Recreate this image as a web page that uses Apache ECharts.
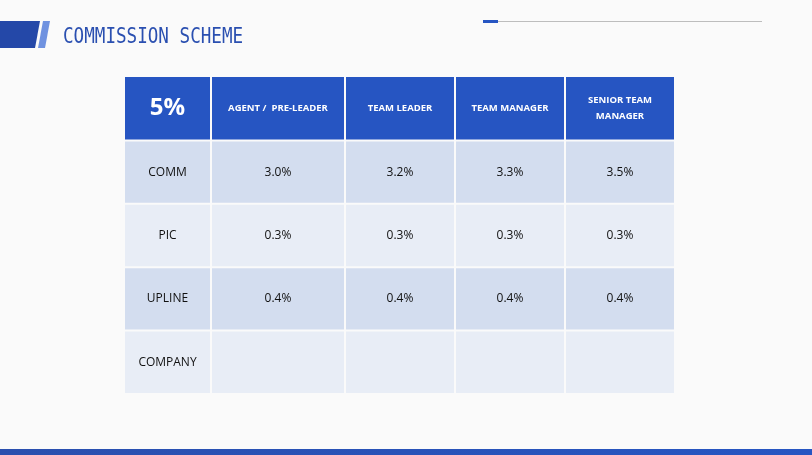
<!DOCTYPE html>
<html><head><meta charset="utf-8">
<script src="https://cdn.jsdelivr.net/npm/echarts@6/dist/echarts.min.js"></script>
<style>html,body{margin:0;padding:0;background:#fff}#c{width:812px;height:455px}</style>
</head><body><div id="c"></div>
<script>
const corner = '5%';
const columns = ['AGENT /  PRE-LEADER', 'TEAM LEADER', 'TEAM MANAGER', 'SENIOR TEAM\nMANAGER'];
const rowLabels = ['COMM', 'PIC', 'UPLINE', 'COMPANY'];
const comm = ['3.0%', '3.2%', '3.3%', '3.5%'];
const pic = ['0.3%', '0.3%', '0.3%', '0.3%'];
const upline = ['0.4%', '0.4%', '0.4%', '0.4%'];
const company = ['', '', '', ''];

const colEdges = [0, 86, 220, 330, 440, 550];
const values = [comm, pic, upline, company];
const data = [];
data.push([0, 0, corner]);
columns.forEach((c, i) => data.push([i + 1, 0, c]));
rowLabels.forEach((r, j) => {
  data.push([0, j + 1, r]);
  values[j].forEach((v, i) => data.push([i + 1, j + 1, v]));
});

const chart = echarts.init(document.getElementById('c'));
chart.setOption({
  backgroundColor: '#fafafa',
  grid: {left: 125, right: 137, top: 77, bottom: 61},
  xAxis: {type: 'value', min: 0, max: 550, show: false},
  yAxis: {type: 'value', min: 0, max: 5, inverse: true, show: false},
  graphic: [
    {type: 'polygon', shape: {points: [[0,21],[40,21],[35,48],[0,48]]}, style: {fill: '#2448a8'}},
    {type: 'polygon', shape: {points: [[43,21],[50,21],[45,48],[38,48]]}, style: {fill: '#6f92e0'}},
    {type: 'text', x: 63, y: 26, scaleX: 0.8, style: {text: 'COMMISSION SCHEME', font: '22px "DejaVu Sans Mono"', fill: '#2a4fb0'}},
    {type: 'rect', shape: {x: 483, y: 20, width: 15, height: 3}, style: {fill: '#2655c2'}},
    {type: 'rect', shape: {x: 498, y: 21, width: 264, height: 1}, style: {fill: '#bdbdbd'}},
    {type: 'rect', shape: {x: 0, y: 449, width: 812, height: 6}, style: {fill: new echarts.graphic.LinearGradient(0,0,1,0,[{offset:0,color:'#2a4fae'},{offset:1,color:'#2655c2'}])}}
  ],
  series: [{
    type: 'custom',
    data: data,
    renderItem: function (params, api) {
      const c = api.value(0), r = api.value(1);
      const text = data[params.dataIndex][2];
      const p0 = api.coord([colEdges[c], r]);
      const p1 = api.coord([colEdges[c + 1], r + 1]);
      const x = p0[0] + (c > 0 ? 1 : 0), y = p0[1] + (r > 0 ? 1 : 0);
      const w = p1[0] - x - 1, h = p1[1] - y - 1;
      const fill = r === 0 ? '#2655c2' : (r % 2 === 1 ? '#d3ddef' : '#e8edf6');
      let font, color;
      if (r === 0) {
        color = '#fff';
        font = c === 0 ? 'bold 24px "Open Sans"' : 'bold 9.5px "Open Sans"';
      } else {
        color = '#111';
        font = '12px "Open Sans"';
      }
      return {
        type: 'rect', shape: {x: x, y: y, width: w, height: h},
        style: {fill: fill},
        textContent: {style: {text: text, fill: color, font: font, align: 'center', verticalAlign: 'middle', lineHeight: 16}},
        textConfig: {position: 'inside'}
      };
    }
  }]
});
</script></body></html>
